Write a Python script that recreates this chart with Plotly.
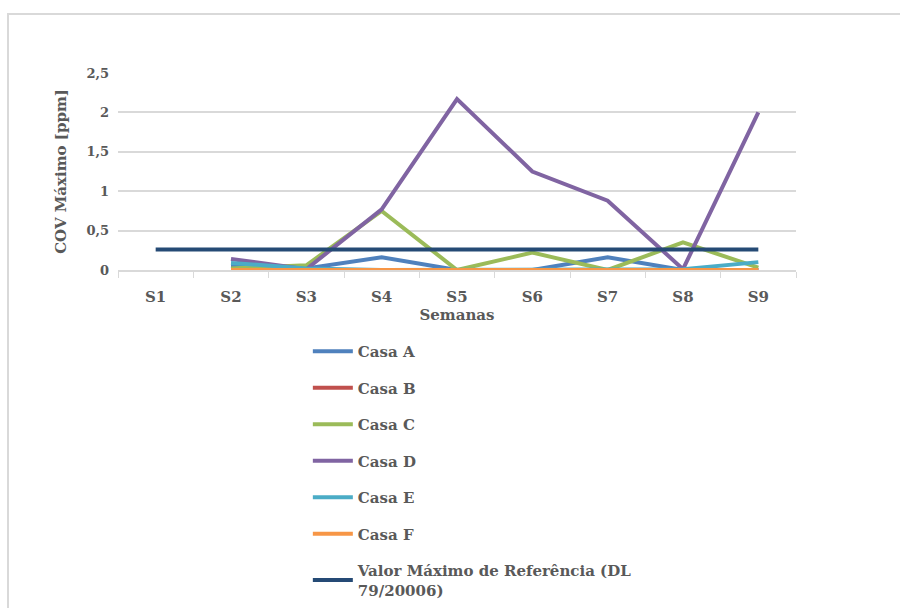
import plotly.graph_objects as go

# Weekly maximum VOC readings (ppm) for each house
semanas = ["S1", "S2", "S3", "S4", "S5", "S6", "S7", "S8", "S9"]
casa_a = [None, 0.05, 0.02, 0.16, 0.0, 0.0, 0.16, 0.0, 0.0]
casa_b = [None, 0.0, 0.0, 0.0, 0.0, 0.0, 0.0, 0.0, 0.0]
casa_c = [None, 0.02, 0.06, 0.75, 0.0, 0.22, 0.0, 0.35, 0.03]
casa_d = [None, 0.14, 0.01, 0.77, 2.17, 1.25, 0.88, 0.01, 2.0]
casa_e = [None, 0.09, 0.02, 0.0, 0.0, 0.0, 0.0, 0.01, 0.1]
casa_f = [None, 0.0, 0.0, 0.0, 0.0, 0.0, 0.0, 0.0, 0.0]
valor_referencia = [0.26, 0.26, 0.26, 0.26, 0.26, 0.26, 0.26, 0.26, 0.26]

series = [
    ("Casa A", casa_a, "#4F81BD"),
    ("Casa B", casa_b, "#C0504D"),
    ("Casa C", casa_c, "#9BBB59"),
    ("Casa D", casa_d, "#8064A2"),
    ("Casa E", casa_e, "#4BACC6"),
    ("Casa F", casa_f, "#F79646"),
    ("Valor Máximo de Referência (DL<br>79/20006)", valor_referencia, "#254A75"),
]

FONT = "DejaVu Serif"
GREY = "#595959"

fig = go.Figure()
for i, (name, values, color) in enumerate(series):
    fig.add_trace(go.Scatter(
        x=semanas, y=values, name=name, mode="lines",
        line=dict(color=color, width=4),
        legendgroup=f"g{i}",
    ))

fig.update_layout(
    width=900, height=608,
    margin=dict(l=118, r=104, t=73, b=338, autoexpand=False),
    plot_bgcolor="white", paper_bgcolor="white",
    separators=", ",
    font=dict(family=FONT, color=GREY, size=14),
    showlegend=True,
    legend=dict(
        orientation="v", x=0.28, y=-0.33, xanchor="left", yanchor="top",
        font=dict(family=FONT, size=15, color=GREY, weight="bold"),
        tracegroupgap=14, itemwidth=40, traceorder="grouped",
    ),
    xaxis=dict(
        type="category", tickson="boundaries",
        showgrid=False, showline=True, linecolor="#d9d9d9", linewidth=1.5,
        ticks="outside", ticklen=6, tickcolor="#d9d9d9",
        tickfont=dict(family=FONT, size=15, color=GREY, weight="bold"),
        ticklabelstandoff=12,
        title=dict(text="Semanas", standoff=5,
                   font=dict(family=FONT, size=15, color=GREY, weight="bold")),
        range=[-0.5, 8.5],
    ),
    yaxis=dict(
        range=[0, 2.5], dtick=0.5,
        showgrid=True, gridcolor="#d9d9d9", gridwidth=1.5,
        zeroline=False, showline=False,
        tickfont=dict(family=FONT, size=13, color=GREY, weight="bold"),
        ticklabelstandoff=8,
        title=dict(text="COV Máximo [ppm]", standoff=16,
                   font=dict(family=FONT, size=15, color=GREY, weight="bold")),
    ),
    shapes=[dict(
        type="rect", xref="paper", yref="paper",
        x0=(8 - 118) / 678, x1=(960 - 118) / 678,
        y0=(270 - 660) / 197, y1=(270 - 14) / 197,
        line=dict(color="#d9d9d9", width=2), fillcolor="rgba(0,0,0,0)",
        layer="below",
    )],
)

fig.write_html("out.html")
